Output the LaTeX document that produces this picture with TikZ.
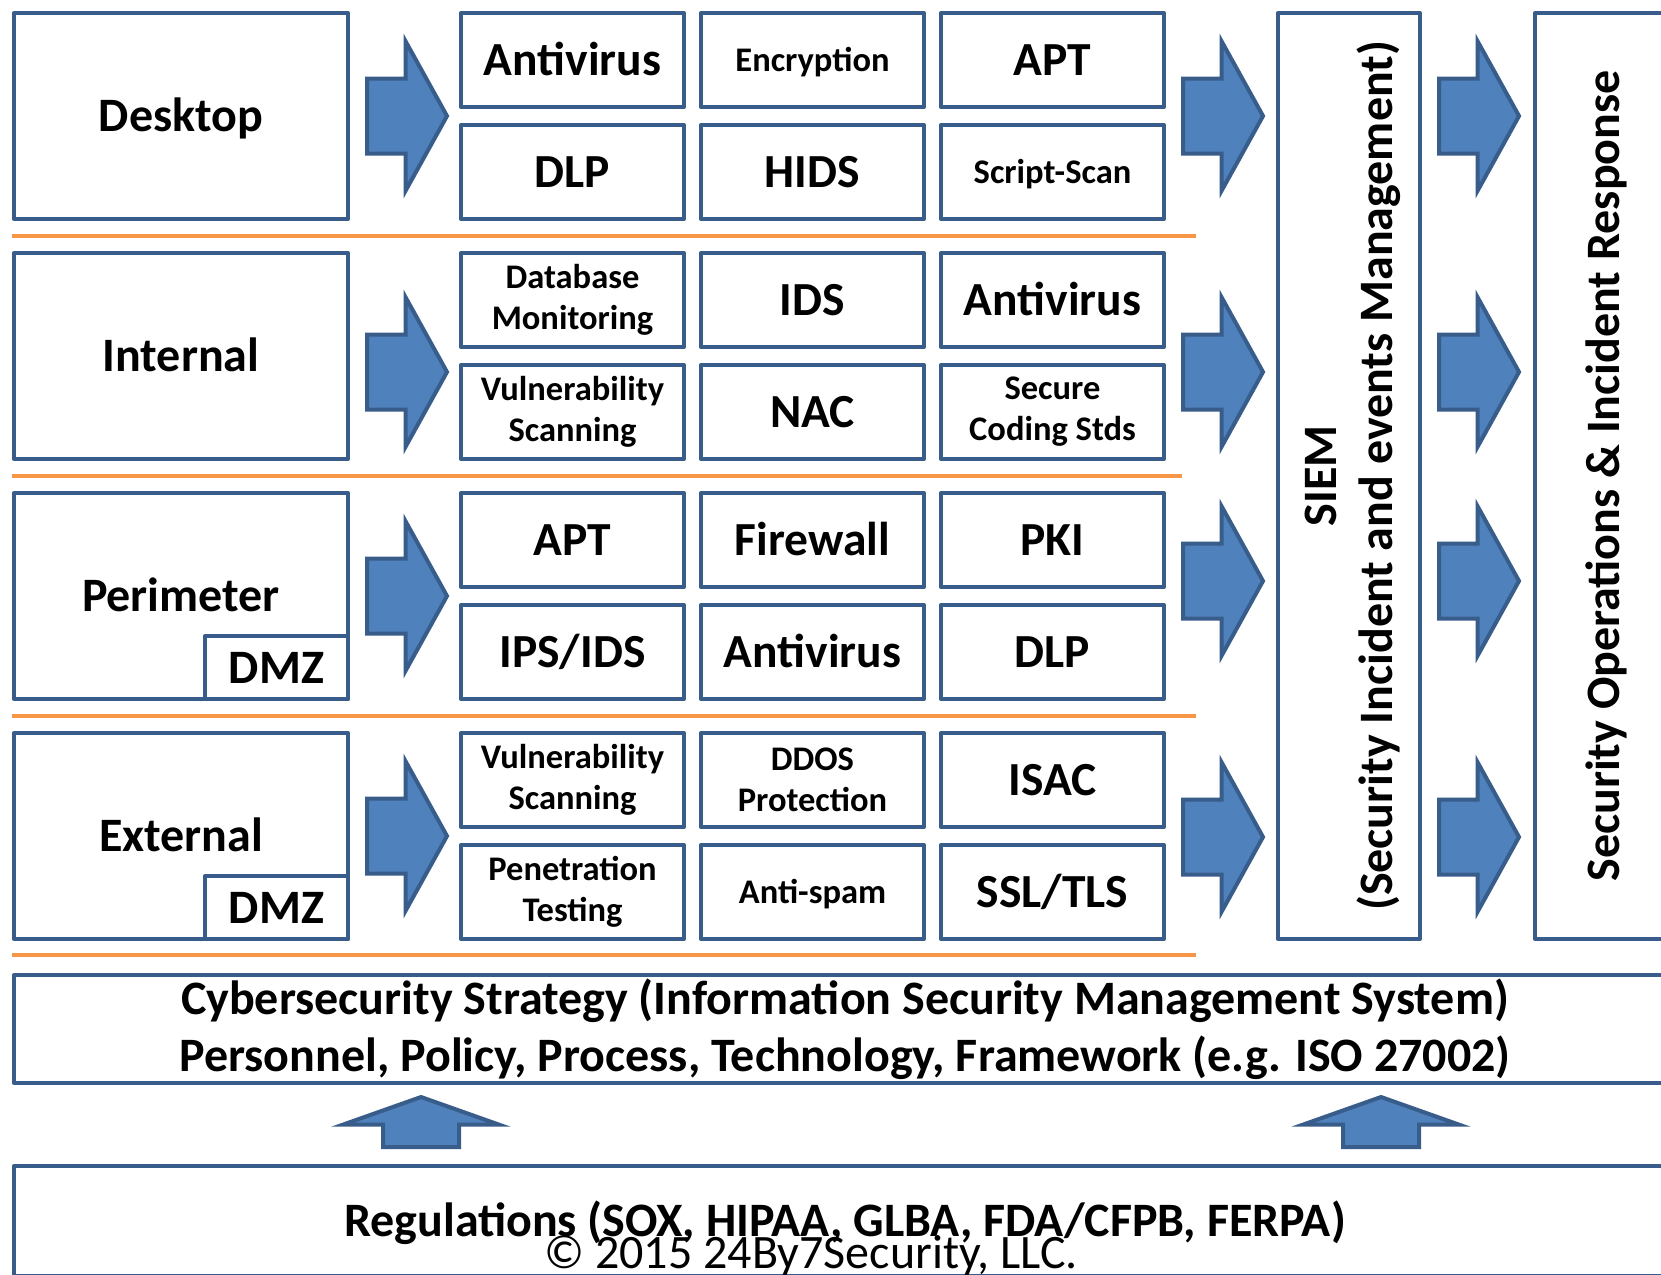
\documentclass[tikz,border=0pt]{standalone}
\usepackage{fontspec}
\setmainfont{Carlito}
\usetikzlibrary{shapes.arrows,positioning}
\definecolor{edgeblue}{HTML}{385D8A}
\definecolor{fillblue}{HTML}{4F81BD}
\definecolor{sepline}{HTML}{F79646}

\begin{document}
\begin{tikzpicture}[x=1pt, y=-1pt,
		plainbox/.style={draw=edgeblue, line width=4, line join=round, fill=white, inner sep=0, align=center},
		zone/.style={plainbox, minimum width=334, minimum height=206, text height=31pt, text depth=0pt, font=\fontsize{48}{56}\selectfont\bfseries},
		dmz/.style={zone, minimum width=143, minimum height=63},
		tool/.style={plainbox, minimum width=223, minimum height=94},
		bigtool/.style={tool, text height=30pt, text depth=0pt, font=\fontsize{47.5}{56}\selectfont\bfseries},
		smalltool/.style={tool, text height=22pt, text depth=0pt, font=\fontsize{34.5}{41}\selectfont\bfseries},
		pairtool/.style={tool, font=\fontsize{34.5}{41}\selectfont\bfseries},
		flow/.style={single arrow, draw=edgeblue, fill=fillblue, line width=4, inner xsep=0, inner ysep=35.5, minimum width=1, minimum height=80, single arrow head extend=37.2, single arrow tip angle=122, anchor=tail},
		upflow/.style={flow, rotate=90, inner ysep=36, minimum height=50, single arrow head extend=40, single arrow tip angle=141},
		divider/.style={draw=sepline, line width=4}]
		\useasboundingbox (0,0) rectangle (1661,1274);
		\fill[white] (0,0) rectangle (1661,1274);
		\clip (0,0) rectangle (1661,1274);

		% zones on the left
		\node[zone] (desk) at (181,116) {Desktop};
		\node[zone] (int) at (181,356) {Internal};
		\node[zone] (peri) at (181,596) {Perimeter};
		\node[zone] (ext) at (181,836) {External};
		\node[dmz, anchor=south east] (peridmz) at (peri.south east) {DMZ};
		\node[dmz, anchor=south east] (extdmz) at (ext.south east) {DMZ};

		% controls per zone
		\matrix [column sep=13pt, row sep=14pt](grid) at (812.5,476) {
			\node[bigtool](c11){Antivirus}; & \node[smalltool](c12){Encryption}; & \node[bigtool](c13){APT}; \\
			\node[bigtool](c21){DLP}; & \node[bigtool](c22){HIDS}; & \node[smalltool](c23){Script-Scan}; \\[16pt]

			\node[pairtool](c31){Database\\Monitoring}; & \node[bigtool](c32){IDS}; & \node[bigtool](c33){Antivirus}; \\
			\node[pairtool](c41){Vulnerability\\Scanning}; & \node[bigtool](c42){NAC}; & \node[pairtool](c43){Secure\\Coding Stds}; \\[16pt]

			\node[bigtool](c51){APT}; & \node[bigtool](c52){Firewall}; & \node[bigtool](c53){PKI}; \\
			\node[bigtool](c61){IPS/IDS}; & \node[bigtool](c62){Antivirus}; & \node[bigtool](c63){DLP}; \\[16pt]

			\node[pairtool](c71){Vulnerability\\Scanning}; & \node[pairtool](c72){DDOS\\Protection}; & \node[bigtool](c73){ISAC}; \\
			\node[pairtool](c81){Penetration\\Testing}; & \node[smalltool](c82){Anti-spam}; & \node[bigtool](c83){SSL/TLS}; \\
		};

		\foreach \y/\xe in {236/1196, 476/1182, 716/1196, 955/1196}
			\draw[divider] (12,\y) -- (\xe,\y);

		% monitoring columns
		\node[plainbox, rotate=90, minimum width=926, minimum height=142, text depth=0pt, font=\fontsize{48}{56}\selectfont\bfseries] (siem) at (1349,476) {SIEM\\(Security Incident and events Management)};
		\node[plainbox, rotate=90, minimum width=926, minimum height=141, text depth=6pt, font=\fontsize{48}{56}\selectfont\bfseries] (soc) at (1605.5,476) {Security Operations \& Incident Response};

		\foreach \c [count=\i] in {116,372,596,836}
			\node[flow] (inflow\i) at (365,\c) {};
		\foreach \c [count=\i] in {116,372,581,837} {
			\node[flow] (logflow\i) at (1181,\c) {};
			\node[flow] (socflow\i) at (1437,\c) {};
		}

		% foundation
		\node[plainbox, minimum width=1662, minimum height=108, font=\fontsize{48}{57}\selectfont\bfseries] (strat) at (845,1029) {Cybersecurity Strategy (Information Security Management System)\\Personnel, Policy, Process, Technology, Framework (e.g. ISO 27002)};
		\node[plainbox, minimum width=1662, minimum height=110, text height=30pt, text depth=0pt, font=\fontsize{48}{56}\selectfont\bfseries] (regs) at (845,1221) {Regulations (SOX, HIPAA, GLBA, FDA/CFPB, FERPA)};
		\node[anchor=base, inner sep=0, font=\fontsize{48}{56}\selectfont] (copy) at (811,1268) {© 2015 24By7Security, LLC.};
		\node[upflow] (upleft) at (421,1149) {};
		\node[upflow] (upright) at (1381,1149) {};
	\end{tikzpicture}
\end{document}
